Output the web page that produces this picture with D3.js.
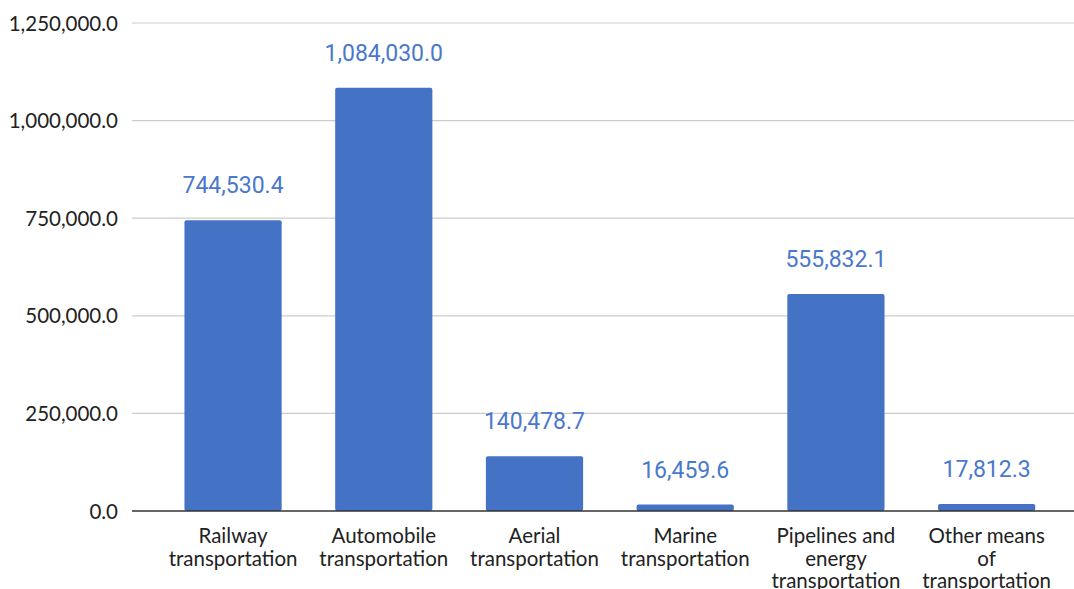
<!DOCTYPE html>
<html>
<head>
<meta charset="utf-8">
<script src="https://cdn.jsdelivr.net/npm/d3@7"></script>
<style>
  html, body { margin: 0; padding: 0; background: #fff; }
  svg { display: block; }
</style>
</head>
<body>
<svg id="chart" width="1074" height="589"></svg>
<script>
// Transport categories (multi-line labels) and their values
const categories = [
  ["Railway", "transportation"],
  ["Automobile", "transportation"],
  ["Aerial", "transportation"],
  ["Marine", "transportation"],
  ["Pipelines and", "energy", "transportation"],
  ["Other means", "of", "transportation"]
];
const values = [744530.4, 1084030.0, 140478.7, 16459.6, 555832.1, 17812.3];
const yTicks = [0, 250000, 500000, 750000, 1000000, 1250000];

const W = 1074, H = 589;
const svg = d3.select("#chart");

const keys = categories.map(c => c.join(" "));
const x = d3.scaleBand().domain(keys).range([157.7, 1062]).paddingInner(0.355).paddingOuter(0.1775);
const y = d3.scaleLinear().domain([0, 1250000]).range([511, 23]);

const gridLeft = 132, gridRight = 1074;
const fmt = d3.format(",.1f");

// horizontal gridlines
svg.append("g").selectAll("line").data(yTicks.filter(d => d > 0)).join("line")
  .attr("x1", gridLeft).attr("x2", gridRight)
  .attr("y1", d => y(d)).attr("y2", d => y(d))
  .attr("stroke", "#cccccc").attr("stroke-width", 1.2);

// y axis labels
const yAxis = d3.axisLeft(y).tickValues(yTicks).tickFormat(fmt).tickSize(0).tickPadding(0);
const gy = svg.append("g").attr("transform", `translate(118,0)`).call(yAxis);
gy.select(".domain").remove();
gy.selectAll("text")
  .attr("font-family", "Lato, sans-serif").attr("font-size", 20.5).attr("fill", "#222")
  .attr("dy", "0.35em");

// bars
svg.append("g").selectAll("rect").data(values).join("rect")
  .attr("x", (d, i) => x(keys[i]))
  .attr("y", d => y(d))
  .attr("width", x.bandwidth())
  .attr("height", d => y(0) - y(d))
  .attr("rx", 2).attr("ry", 2)
  .attr("fill", "#4472c4");

// baseline
svg.append("line")
  .attr("x1", gridLeft).attr("x2", gridRight)
  .attr("y1", y(0)).attr("y2", y(0))
  .attr("stroke", "#333").attr("stroke-width", 1.6);

// value labels
svg.append("g").selectAll("text").data(values).join("text")
  .attr("x", (d, i) => x(keys[i]) + x.bandwidth() / 2)
  .attr("y", d => y(d) - 27)
  .attr("text-anchor", "middle")
  .attr("font-family", "Roboto, sans-serif").attr("font-size", 23)
  .attr("fill", "#4a78cc")
  .text(d => fmt(d));

// category labels
const xl = svg.append("g").selectAll("text").data(categories).join("text")
  .attr("text-anchor", "middle")
  .attr("font-family", "Lato, sans-serif").attr("font-size", 20.5)
  .attr("fill", "#222")
  .attr("transform", (d, i) => `translate(${x(keys[i]) + x.bandwidth() / 2},543)`);
xl.selectAll("tspan").data(d => d).join("tspan")
  .attr("x", 0).attr("y", (d, i) => i * 22.5)
  .text(d => d);
</script>
</body>
</html>
